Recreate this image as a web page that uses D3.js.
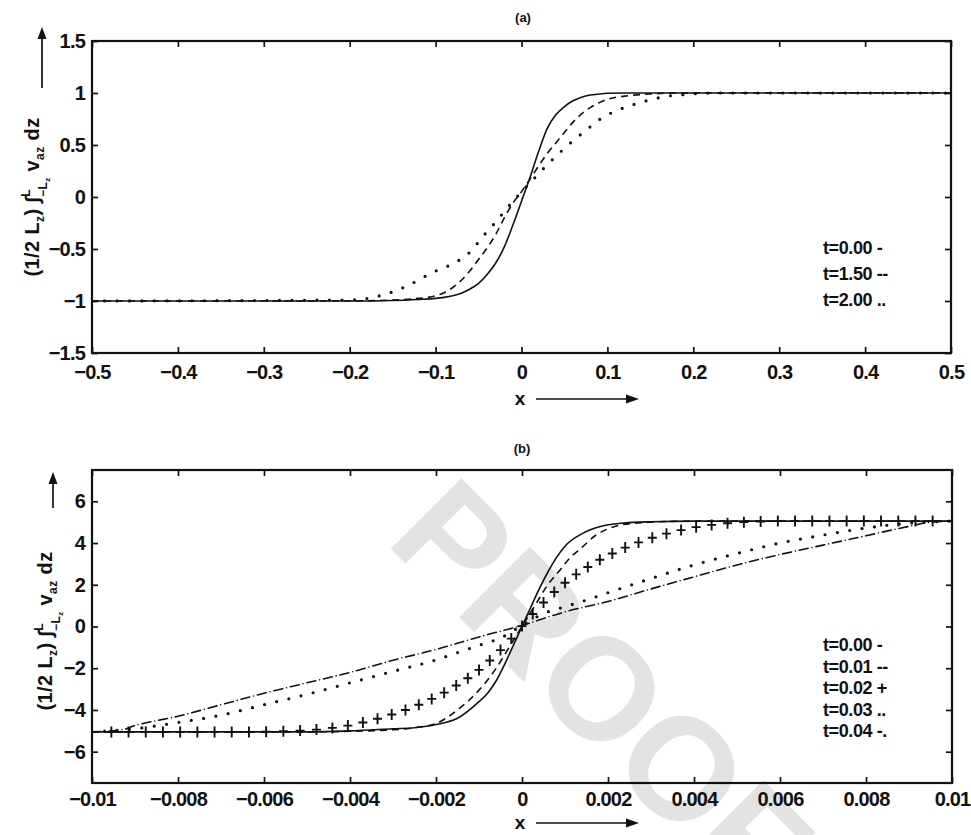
<!DOCTYPE html>
<html><head><meta charset="utf-8">
<script src="https://cdn.jsdelivr.net/npm/d3@7"></script>
<style>
body{margin:0;background:#fff}
svg{display:block}
text{font-family:"Liberation Sans",Arial,Helvetica,sans-serif;fill:#111}
</style>
</head><body>
<svg id="chart" width="971" height="835"></svg>
<script>
// ---------------- DATA ----------------
const aTicksX = [-0.5,-0.4,-0.3,-0.2,-0.1,0,0.1,0.2,0.3,0.4,0.5];
const aTicksY = [-1.5,-1,-0.5,0,0.5,1,1.5];
const bTicksX = [-0.01,-0.008,-0.006,-0.004,-0.002,0,0.002,0.004,0.006,0.008,0.01];
const bTicksY = [-6,-4,-2,0,2,4,6];

const aLegend = ["t=0.00 -","t=1.50 --","t=2.00 .."];
const bLegend = ["t=0.00 -","t=0.01 --","t=0.02 +","t=0.03 ..","t=0.04 -."];

// panel (a): t = 0.00 (solid)
const a_t000 = [[-0.5,-1],[-0.2,-1],[-0.15,-0.995],[-0.12,-0.985],[-0.1,-0.975],[-0.09,-0.965],[-0.08,-0.95],[-0.07,-0.925],[-0.06,-0.885],[-0.05,-0.83],[-0.04,-0.745],[-0.03,-0.635],[-0.02,-0.48],[-0.01,-0.27],[0,-0.04],[0.01,0.19],[0.02,0.44],[0.03,0.66],[0.04,0.79],[0.05,0.87],[0.06,0.925],[0.07,0.96],[0.08,0.98],[0.09,0.99],[0.1,0.997],[0.12,1],[0.5,1]];
// panel (a): t = 1.50 (dashed)
const a_t150 = [[-0.5,-1],[-0.2,-1],[-0.15,-0.99],[-0.12,-0.975],[-0.1,-0.95],[-0.09,-0.92],[-0.08,-0.87],[-0.07,-0.8],[-0.06,-0.71],[-0.05,-0.6],[-0.04,-0.49],[-0.03,-0.36],[-0.02,-0.2],[-0.01,-0.06],[0,0.05],[0.0105,0.18],[0.02,0.3],[0.03,0.42],[0.04,0.52],[0.05,0.62],[0.06,0.72],[0.07,0.8],[0.08,0.86],[0.09,0.905],[0.1,0.94],[0.12,0.97],[0.15,0.99],[0.18,1],[0.5,1]];
// panel (a): t = 2.00 (dotted)
const a_t200 = [[-0.5,-1],[-0.2,-0.99],[-0.17,-0.96],[-0.14,-0.88],[-0.12,-0.8],[-0.105,-0.73],[-0.09,-0.68],[-0.075,-0.62],[-0.06,-0.53],[-0.045,-0.38],[-0.03,-0.24],[-0.015,-0.09],[0,0.05],[0.015,0.18],[0.03,0.31],[0.045,0.43],[0.06,0.54],[0.075,0.64],[0.09,0.74],[0.105,0.81],[0.12,0.86],[0.135,0.9],[0.15,0.935],[0.17,0.97],[0.19,0.985],[0.22,1],[0.5,1]];

// panel (b): t = 0.00 (solid)
const b_t000 = [[-0.01,-5.05],[-0.005,-5.05],[-0.004,-5.0],[-0.003,-4.9],[-0.0025,-4.85],[-0.002,-4.7],[-0.0015,-4.4],[-0.001,-3.6],[-0.0008,-3.2],[-0.0006,-2.6],[-0.0004,-1.8],[-0.0002,-0.9],[0,0],[0.0002,0.9],[0.0004,1.8],[0.0006,2.6],[0.0008,3.3],[0.001,3.85],[0.0014,4.45],[0.0018,4.78],[0.0023,4.95],[0.003,5.02],[0.004,5.05],[0.01,5.05]];
// panel (b): t = 0.01 (dashed)
const b_t001 = [[-0.01,-5.05],[-0.005,-5.05],[-0.004,-5.02],[-0.003,-4.95],[-0.0025,-4.85],[-0.002,-4.65],[-0.0015,-4.0],[-0.001,-3.05],[-0.0006,-2.0],[-0.0003,-1.0],[0,0],[0.0003,1.0],[0.0006,2.0],[0.00088,2.7],[0.0011,3.25],[0.0014,3.8],[0.0017,4.35],[0.002,4.68],[0.0023,4.87],[0.003,5.0],[0.004,5.05],[0.01,5.05]];
// panel (b): t = 0.02 (plus markers)
const b_t002 = [[-0.01,-5.05],[-0.00955,-5.05],[-0.00915,-5.05],[-0.00875,-5.05],[-0.00835,-5.05],[-0.00795,-5.05],[-0.00755,-5.05],[-0.00715,-5.05],[-0.00675,-5.05],[-0.00635,-5.05],[-0.00595,-5.04],[-0.00555,-5.02],[-0.00516,-4.99],[-0.00478,-4.94],[-0.00441,-4.86],[-0.00405,-4.75],[-0.0037,-4.6],[-0.00336,-4.42],[-0.00303,-4.22],[-0.00271,-4.0],[-0.0024,-3.75],[-0.0021,-3.47],[-0.00181,-3.17],[-0.00153,-2.83],[-0.00126,-2.48],[-0.001,-2.08],[-0.00075,-1.63],[-0.0005,-1.13],[-0.00025,-0.58],[0,0.02],[0.00025,0.6],[0.0005,1.15],[0.00075,1.65],[0.001,2.1],[0.00126,2.5],[0.00153,2.85],[0.00181,3.2],[0.0021,3.5],[0.0024,3.78],[0.00271,4.03],[0.00303,4.25],[0.00336,4.45],[0.0037,4.62],[0.00405,4.76],[0.00441,4.87],[0.00478,4.95],[0.00516,5.0],[0.00555,5.03],[0.00595,5.05],[0.00635,5.05],[0.00675,5.05],[0.00715,5.05],[0.00755,5.05],[0.00795,5.05],[0.00835,5.05],[0.00875,5.05],[0.00915,5.05],[0.00955,5.05],[0.01,5.05]];
// panel (b): t = 0.03 (dotted)
const b_t003 = [[-0.01,-5.05],[-0.009,-4.9],[-0.008,-4.6],[-0.007,-4.25],[-0.006,-3.75],[-0.005,-3.25],[-0.004,-2.7],[-0.003,-2.15],[-0.002,-1.6],[-0.0015,-1.25],[-0.001,-0.9],[-0.0005,-0.55],[0,0.05],[0.0005,0.62],[0.001,0.95],[0.0015,1.27],[0.002,1.62],[0.003,2.3],[0.004,2.95],[0.005,3.5],[0.006,4.0],[0.007,4.38],[0.008,4.72],[0.009,4.95],[0.01,5.05]];
// panel (b): t = 0.04 (dash-dot)
const b_t004 = [[-0.01,-5.05],[-0.0093,-4.95],[-0.009,-4.75],[-0.008,-4.3],[-0.007,-3.75],[-0.006,-3.2],[-0.005,-2.7],[-0.004,-2.2],[-0.003,-1.62],[-0.002,-1.1],[-0.001,-0.5],[0,0.05],[0.001,0.7],[0.002,1.2],[0.003,1.8],[0.004,2.38],[0.005,2.95],[0.006,3.45],[0.007,3.9],[0.008,4.35],[0.009,4.8],[0.0095,5.0],[0.01,5.05]];

// ---------------- DRAWING ----------------
const svg = d3.select("#chart");
const fmt = d => String(d).replace("-", "\u2212");

// faint "PROOF" stamp of the scanned page (behind everything)
svg.append("text")
  .attr("transform","translate(384,542) rotate(45)")
  .attr("font-size",145).attr("font-weight","bold")
  .style("fill","#e3e3e3")
  .text("PROOF");

const styles = {
  solid:  {dash:null, width:1.6, cap:"butt"},
  dashed: {dash:"7,5", width:1.6, cap:"butt"},
  dotted: {dash:"0,12.5", width:3.2, cap:"round"},
  dashdot:{dash:"9,4,0,4", width:1.6, cap:"round"}
};

function panel(cfg){
  const x = d3.scaleLinear().domain(cfg.xd).range([cfg.l, cfg.r]);
  const y = d3.scaleLinear().domain(cfg.yd).range([cfg.b, cfg.t]);
  const g = svg.append("g");
  const clipId = "clip" + cfg.id;
  g.append("clipPath").attr("id", clipId).append("rect")
    .attr("x", cfg.l).attr("y", cfg.t).attr("width", cfg.r-cfg.l).attr("height", cfg.b-cfg.t);

  const ax = (axisFn, tr, vals, pad) => {
    const a = axisFn.tickValues(vals).tickSizeInner(-6).tickSizeOuter(0).tickPadding(pad || 0)
      .tickFormat(pad ? fmt : () => "");
    const ag = g.append("g").attr("transform", tr).call(a);
    ag.select(".domain").remove();
    ag.selectAll(".tick line").attr("stroke","#111").attr("stroke-width",1.7);
    ag.selectAll("text").attr("font-size",20).attr("font-weight","bold").style("fill","#111")
      .attr("font-family",'"Liberation Sans",Arial,sans-serif').attr("letter-spacing","-0.8");
    return ag;
  };
  ax(d3.axisBottom(x), `translate(0,${cfg.b})`, cfg.xt, cfg.xpad);
  ax(d3.axisTop(x), `translate(0,${cfg.t})`, cfg.xt, 0);
  ax(d3.axisLeft(y), `translate(${cfg.l},0)`, cfg.yt, 7);
  ax(d3.axisRight(y), `translate(${cfg.r},0)`, cfg.yt, 0);

  g.append("rect").attr("x",cfg.l).attr("y",cfg.t).attr("width",cfg.r-cfg.l).attr("height",cfg.b-cfg.t)
    .attr("fill","none").attr("stroke","#111").attr("stroke-width",2.2);

  const line = d3.line().x(d=>x(d[0])).y(d=>y(d[1])).curve(d3.curveMonotoneX);
  const plot = g.append("g").attr("clip-path", `url(#${clipId})`);
  cfg.series.forEach(s => {
    if (s.style === "plus") {
      plot.selectAll(null).data(s.data).join("path")
        .attr("transform", d => `translate(${x(d[0])},${y(d[1])})`)
        .attr("d","M-4.5,0H4.5M0,-5.5V5.5").attr("stroke","#111").attr("stroke-width",1.9).attr("fill","none");
    } else {
      const st = styles[s.style];
      plot.append("path").datum(s.data).attr("d", line)
        .attr("fill","none").attr("stroke","#111").attr("stroke-width",st.width)
        .attr("stroke-linecap",st.cap)
        .attr("stroke-dasharray",st.dash);
    }
  });

  svg.append("text").attr("x",cfg.titleX).attr("y",cfg.titleY).attr("text-anchor","middle")
    .attr("dy","0.35em").attr("font-size",13).attr("font-weight","bold").text(cfg.title);

  cfg.legend.forEach((t,i)=>{
    svg.append("text").attr("x",cfg.legX).attr("y",cfg.legY + i*cfg.legDy).attr("dy","0.35em")
      .attr("font-size",18).attr("font-weight","bold").attr("letter-spacing","-0.4").text(t);
  });

  svg.append("text").attr("x",cfg.xlabX).attr("y",cfg.xlabY).attr("dy","0.35em").attr("text-anchor","middle")
    .attr("font-size",19).attr("font-weight","bold").text("x");
  svg.append("line").attr("x1",cfg.xlabX+16).attr("x2",cfg.xlabX+108).attr("y1",cfg.xlabY+1).attr("y2",cfg.xlabY+1)
    .attr("stroke","#111").attr("stroke-width",1.7);
  svg.append("path").attr("d",`M${cfg.xlabX+119},${cfg.xlabY+1}l-13,-4.5v9z`).attr("fill","#111");

  const yl = svg.append("g").attr("transform",`translate(${cfg.ylabX},${cfg.ylabY}) rotate(-90)`);
  const tx = yl.append("text").attr("text-anchor","middle").attr("dy","0.35em").attr("font-size",20)
    .attr("font-weight","bold").attr("letter-spacing","0.4");
  tx.append("tspan").text("(1/2 L");
  tx.append("tspan").attr("font-size",12).attr("dy",5).text("z");
  tx.append("tspan").attr("dy",-5).text(") \u222B");
  tx.append("tspan").attr("font-size",12).attr("dy",-9).text("L");
  tx.append("tspan").attr("font-size",12).attr("dx",-8).attr("dy",17).text("\u2212L");
  tx.append("tspan").attr("font-size",8).attr("dy",3).text("z");
  tx.append("tspan").attr("dy",-11).text(" v");
  tx.append("tspan").attr("font-size",12).attr("dy",5).text("az");
  tx.append("tspan").attr("dy",-5).text(" dz");
  svg.append("line").attr("x1",cfg.arrX).attr("x2",cfg.arrX).attr("y1",cfg.arrY2).attr("y2",cfg.arrY1+8)
    .attr("stroke","#111").attr("stroke-width",1.7);
  svg.append("path").attr("d",`M${cfg.arrX},${cfg.arrY1}l-4.5,12h9z`).attr("fill","#111");
}

panel({
  id:"a", l:92, r:951, t:41, b:353, xd:[-0.5,0.5], yd:[-1.5,1.5], xt:aTicksX, yt:aTicksY, xpad:12,
  series:[{data:a_t000,style:"solid"},{data:a_t150,style:"dashed"},{data:a_t200,style:"dotted"}],
  title:"(a)", titleX:523, titleY:17,
  legend:aLegend, legX:823, legY:248, legDy:26,
  xlabX:520, xlabY:398,
  ylabX:32, ylabY:197, arrX:42, arrY1:27, arrY2:88
});

panel({
  id:"b", l:92, r:952, t:470, b:783, xd:[-0.01,0.01], yd:[-7.5,7.5], xt:bTicksX, yt:bTicksY, xpad:9,
  series:[{data:b_t000,style:"solid"},{data:b_t001,style:"dashed"},{data:b_t002,style:"plus"},{data:b_t003,style:"dotted"},{data:b_t004,style:"dashdot"}],
  title:"(b)", titleX:522, titleY:448,
  legend:bLegend, legX:823, legY:645, legDy:21.5,
  xlabX:520, xlabY:822,
  ylabX:45, ylabY:631, arrX:53, arrY1:472, arrY2:508
});
</script>
</body></html>
